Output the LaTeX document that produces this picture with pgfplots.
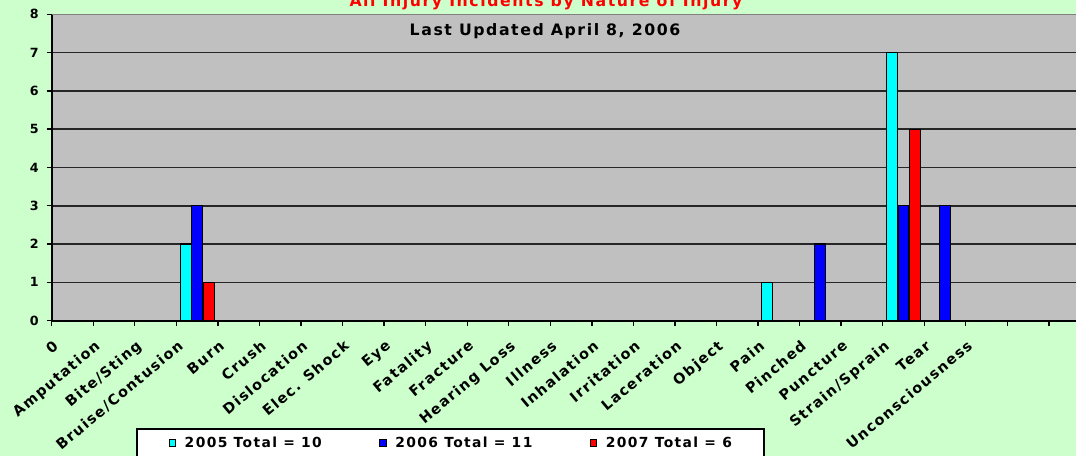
\documentclass[border=0pt]{standalone}
\usepackage{pgfplots}
\pgfplotsset{compat=1.18}
\usepackage{fontspec}
\setmainfont{DejaVu Sans}[LetterSpace=10]
\definecolor{bgc}{HTML}{CCFFCC}
\definecolor{plotc}{HTML}{C0C0C0}
\definecolor{c05}{HTML}{00FFFF}
\definecolor{c06}{HTML}{0000FF}
\definecolor{c07}{HTML}{FF0000}
\begin{document}
\begin{tikzpicture}
\useasboundingbox (0,0) rectangle (807pt,342pt);
\fill[bgc] (0,0) rectangle (807pt,342pt);
\begin{scope}
\clip (0,0) rectangle (807pt,342pt);
\begin{axis}[
  at={(38.8pt,101.5pt)}, anchor=south west,
  scale only axis, width=779pt, height=229.8pt,
  xmin=-0.5, xmax=24.5, ymin=0, ymax=8,
  axis lines=left,
  axis line style={-, black, line width=1.5pt},
  axis background/.style={fill=plotc},
  tick align=outside,
  major tick length=3.75pt,
  tick style={black, line width=1pt},
  /pgf/number format/assume math mode=true,
  ytick={0,...,7},
  extra y ticks={8},
  extra y tick style={grid style={gray, line width=1pt}},
  ymajorgrids,
  grid style={black!85, line width=1.2pt},
  yticklabel style={font=\bfseries\fontsize{9.5}{10}\selectfont, xshift=-2.5pt},
  xtick={-0.5,0.5,...,23.5},
  xticklabel={\hbox{}},
  extra x ticks={0,...,22},
  extra x tick labels={0,Amputation,Bite/Sting,Bruise/Contusion,Burn,Crush,Dislocation,Elec. Shock,Eye,Fatality,Fracture,Hearing Loss,Illness,Inhalation,Irritation,Laceration,Object,Pain,Pinched,Puncture,Strain/Sprain,Tear,Unconsciousness},
  extra x tick style={major tick length=0pt, xticklabel style={font=\bfseries\fontsize{10.8}{12}\selectfont, rotate=40, anchor=north east, inner sep=0pt, xshift=-20.5pt, yshift=-0.8pt}},
  legend style={at={(0.0812,-0.3502)}, anchor=north west, draw=black, line width=1.2pt, fill=white,
    inner xsep=24pt, inner ysep=6pt, nodes={inner sep=0pt},
    font=\bfseries\fontsize{10.4}{11}\selectfont,
    /tikz/every odd column/.append style={column sep=6.5pt}},
  legend columns=3,
  mybar/.style={ybar, bar width=0.265, draw=black, line width=0.9pt},
]
\addplot[mybar, bar shift=-0.277, fill=c05, legend image code/.code={\draw[fill=c05, draw=black, line width=0.6pt] (0pt,-2.4pt) rectangle (4.8pt,2.4pt);}] coordinates {(3,2) (17,1) (20,7)};
\addlegendentry{\makebox[146pt][l]{2005 Total = 10}}
\addplot[mybar, bar shift=0, fill=c06, legend image code/.code={\draw[fill=c06, draw=black, line width=0.6pt] (0pt,-2.4pt) rectangle (4.8pt,2.4pt);}] coordinates {(3,3) (18,2) (20,3) (21,3)};
\addlegendentry{\makebox[146pt][l]{2006 Total = 11}}
\addplot[mybar, bar shift=0.277, fill=c07, legend image code/.code={\draw[fill=c07, draw=black, line width=0.6pt] (0pt,-2.4pt) rectangle (4.8pt,2.4pt);}] coordinates {(3,1) (20,5)};
\addlegendentry{2007 Total = 6}
\end{axis}
\node[anchor=base, text=red, font=\bfseries\fontsize{11.8}{13}\selectfont] at (409.5pt,337.1pt) {All Injury Incidents by Nature of Injury};
\node[anchor=base, font=\bfseries\fontsize{11.8}{13}\selectfont] at (408.75pt,315pt) {Last Updated April 8, 2006};
\end{scope}
\end{tikzpicture}
\end{document}
